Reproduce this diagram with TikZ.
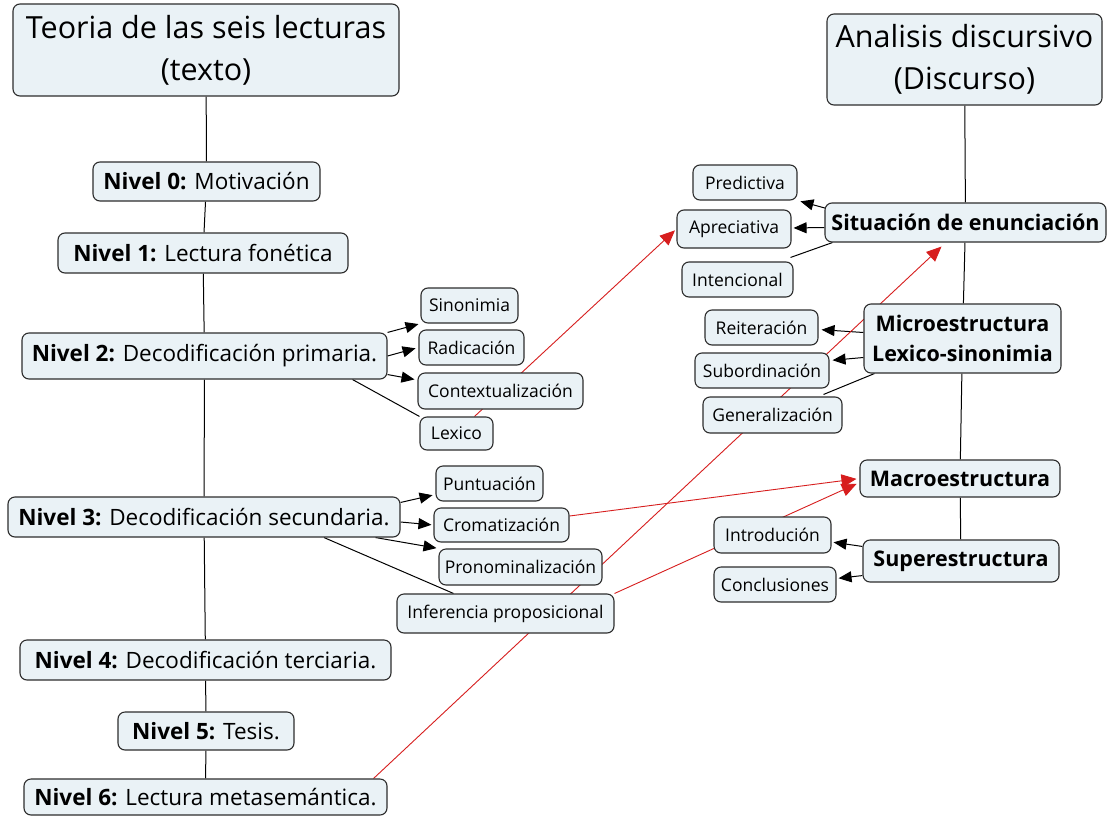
\documentclass[tikz,border=0pt]{standalone}
\usepackage{fontspec}
\setmainfont{Open Sans}
\usepackage{tikz}
\usetikzlibrary{arrows.meta,calc,backgrounds}
\usepackage{xcolor}
\definecolor{boxfill}{RGB}{234,242,246}
\definecolor{boxline}{RGB}{45,45,45}
\definecolor{linkred}{RGB}{215,30,30}

\tikzset{
  caja/.style={draw=boxline,fill=boxfill,rounded corners=7pt,line width=1.1pt,inner sep=0pt,align=center},
  nivel/.style={caja,font=\fontsize{22.5}{26}\selectfont},
  hoja/.style={caja,font=\fontsize{17.5}{20}\selectfont},
  titulo/.style={caja,font=\fontsize{30.5}{42}\selectfont},
  eje/.style={caja,font=\bfseries\fontsize{21.5}{30}\selectfont},
  linea/.style={line width=1pt,black},
  flecha/.style={linea,-{Triangle[length=13pt,width=11pt]}},
  roja/.style={line width=0.9pt,linkred,-{Triangle[length=15pt,width=13pt]}}
}

\begin{document}
\begin{tikzpicture}[x=1pt,y=-1pt]
\useasboundingbox (0,0) rectangle (1107,816);

% texto
\node[titulo,minimum width=386,minimum height=92] (tit1) at (206,50) {Teoria de las seis lecturas\\(texto)};
\node[nivel,minimum width=227,minimum height=39] (niv0) at (206.5,181.5) {\textbf{Nivel 0:} Motivación};
\node[nivel,minimum width=290,minimum height=40] (niv1) at (203,253) {\textbf{Nivel 1:} Lectura fonética};
\node[nivel,minimum width=365,minimum height=46] (niv2) at (204.5,356) {\textbf{Nivel 2:} Decodificación primaria.};
\node[nivel,minimum width=392,minimum height=40] (niv3) at (204,517) {\textbf{Nivel 3:} Decodificación secundaria.};
\node[nivel,minimum width=371,minimum height=40] (niv4) at (205.5,660) {\textbf{Nivel 4:} Decodificación terciaria.};
\node[nivel,minimum width=176,minimum height=38] (niv5) at (206,731) {\textbf{Nivel 5:} Tesis.};
\node[nivel,minimum width=363,minimum height=36] (niv6) at (205.5,797) {\textbf{Nivel 6:} Lectura metasemántica.};

\node[hoja,minimum width=97,minimum height=35] (sino) at (469.5,305.5) {Sinonimia};
\node[hoja,minimum width=105,minimum height=35] (radi) at (471.5,347.5) {Radicación};
\node[hoja,minimum width=165,minimum height=36] (cont) at (500.5,391) {Contextualización};
\node[hoja,minimum width=73,minimum height=33] (lexi) at (456.5,433.5) {Lexico};
\node[hoja,minimum width=107,minimum height=35] (punt) at (489.5,483.5) {Puntuación};
\node[hoja,minimum width=135,minimum height=34] (crom) at (501.5,525) {Cromatización};
\node[hoja,minimum width=163,minimum height=36] (pron) at (520.5,567) {Pronominalización};
\node[hoja,minimum width=217,minimum height=39] (infe) at (505.5,613.5) {Inferencia proposicional};

% discurso
\node[titulo,minimum width=275,minimum height=91] (tit2) at (964.5,59.5) {Analisis discursivo\\(Discurso)};
\node[eje,minimum width=281,minimum height=39] (sit) at (965.5,222.5) {Situación de enunciación};
\node[eje,minimum width=197,minimum height=69] (micro) at (962.5,338.5) {Microestructura\\Lexico-sinonimia};
\node[eje,minimum width=200,minimum height=37] (macro) at (960,478.5) {Macroestructura};
\node[eje,minimum width=196,minimum height=42] (super) at (961,561) {Superestructura};

\node[hoja,minimum width=104,minimum height=35] (pred) at (745,182.5) {Predictiva};
\node[hoja,minimum width=114,minimum height=38] (apre) at (734,229) {Apreciativa};
\node[hoja,minimum width=111,minimum height=35] (inte) at (737.5,279.5) {Intencional};
\node[hoja,minimum width=113,minimum height=35] (reit) at (761.5,327.5) {Reiteración};
\node[hoja,minimum width=134,minimum height=35] (subo) at (762,370.5) {Subordinación};
\node[hoja,minimum width=139,minimum height=36] (gene) at (772.5,415) {Generalización};
\node[hoja,minimum width=117,minimum height=36] (intro) at (772.5,535) {Introdución};
\node[hoja,minimum width=122,minimum height=35] (concl) at (775,584.5) {Conclusiones};

\begin{pgfonlayer}{background}
\fill[white] (0,0) rectangle (1107,816);

% eje vertical izquierdo
\draw[linea] (tit1) -- (niv0);
\draw[linea] (niv0) -- (niv1);
\draw[linea] (niv1) -- (niv2);
\draw[linea] (niv2) -- (niv3);
\draw[linea] (niv3) -- (niv4);
\draw[linea] (niv4) -- (niv5);
\draw[linea] (niv5) -- (niv6);

\draw[flecha,shorten >=2pt] (niv2.north east) -- (sino.south west);
\draw[flecha,shorten >=3pt] (niv2.east) -- (radi.west);
\draw[flecha,shorten >=3pt] ($(niv2.south east)+(0,-5)$) -- ($(cont.west)+(0,-11)$);
\draw[linea] ($(niv2.south east)+(-35,0)$) -- (lexi.north west);

\draw[flecha,shorten >=3pt] ($(niv3.north east)+(0,6)$) -- ($(punt.west)+(0,11)$);
\draw[flecha,shorten >=2pt] ($(niv3.east)+(0,5)$) -- (crom.west);
\draw[flecha,shorten >=2pt] ($(niv3.south east)+(-25,0)$) -- (pron.north west);
\draw[linea] ($(niv3.south)+(120,0)$) -- ($(infe.north)+(-52,0)$);

% eje vertical derecho
\draw[linea] (tit2) -- (sit);
\draw[linea] (sit) -- (micro);
\draw[linea] (micro) -- (macro);
\draw[linea] (macro) -- (super);

\draw[flecha,shorten >=3pt] ($(sit.north west)+(2,6)$) -- (pred.south east);
\draw[flecha,shorten >=2pt] ($(sit.west)+(0,5)$) -- ($(apre.east)+(0,-1)$);
\draw[linea] ($(sit.south west)+(8,0)$) -- ($(inte.north east)+(-3,-4)$);

\draw[flecha,shorten >=3pt] ($(micro.west)+(0,-6)$) -- ($(reit.east)+(0,2)$);
\draw[flecha,shorten >=3pt] ($(micro.west)+(0,19)$) -- ($(subo.east)+(0,-10)$);
\draw[linea] ($(micro.south west)+(11,0)$) -- ($(gene.north east)+(-19,-2)$);

\draw[flecha,shorten >=2pt] ($(super.north west)+(0,7)$) -- ($(intro.east)+(0,7)$);
\draw[flecha,shorten >=2pt] ($(super.south west)+(0,-7)$) -- ($(concl.east)+(0,-6)$);

% enlaces cruzados
\draw[roja,shorten >=2pt] ($(lexi.north)+(18,0)$) -- (apre.west);
\draw[roja] ($(niv6.north east)+(-14,0)$) -- ($(sit.south)+(-24,4)$);
\draw[roja,shorten >=3pt] ($(crom.east)+(0,-9)$) -- (macro.west);
\draw[roja,shorten >=3pt] (infe.north east) -- ($(macro.west)+(0,4)$);
\end{pgfonlayer}
\end{tikzpicture}
\end{document}
